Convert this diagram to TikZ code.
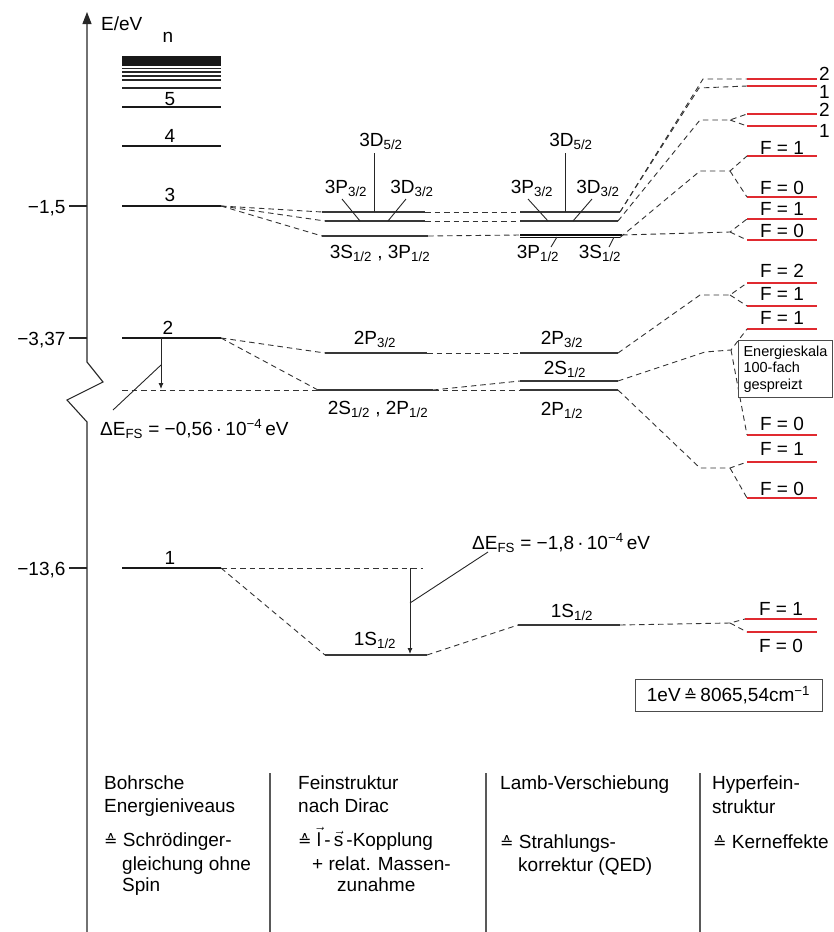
\documentclass[tikz,border=0pt]{standalone}
\usepackage{fontspec}
\setmainfont{Liberation Sans}
\newfontfamily\djv{DejaVu Sans}
\usetikzlibrary{arrows.meta}
\definecolor{hfred}{RGB}{224,42,48}
\newcommand{\eqhat}{{\djv\fontsize{16}{16}\selectfont ≙}}
\newcommand{\sbs}[1]{\textsubscript{#1}}
\begin{document}
\begin{tikzpicture}[x=1pt,y=-1pt,
  lab/.style={font=\fontsize{19}{21}\selectfont, inner sep=0pt, anchor=base},
  labw/.style={lab, anchor=base west},
  labe/.style={lab, anchor=base east},
  axis/.style={line width=1.1pt, draw=black!85},
  bohr/.style={line width=1.9pt, draw=black!90},
  fine/.style={line width=1.2pt, draw=black!78},
  hf/.style={line width=1.5pt, draw=hfred},
  dsh/.style={dash pattern=on 5.5pt off 4pt, line width=0.9pt, draw=black!80},
  lead/.style={line width=0.9pt, draw=black!85},
  sep/.style={line width=1.1pt, draw=black!65},
  ebox/.style={draw=black!70, line width=0.9pt, fill=white},
]
\useasboundingbox (0,0) rectangle (834,932);

% ---------- energy axis ----------
\coordinate (axbot) at (87,932);
\coordinate (axtop) at (87,12);
\draw[axis,-{Triangle[length=12pt,width=9pt]}] (axbot) -- (87,422) -- (67,400) -- (103,382) -- (87,362) -- (axtop);
\node[labw] (elab) at (101,30) {E/eV};
\node[lab] (nlab) at (168,42) {n};
\coordinate (t1) at (87,206); \coordinate (t2) at (87,338); \coordinate (t3) at (87,568);
\draw[axis] (t1) -- ++(-18,0) node[labe, xshift=-3pt, yshift=-7pt] {−1,5};
\draw[axis] (t2) -- ++(-18,0) node[labe, xshift=-3pt, yshift=-7pt] {−3,37};
\draw[axis] (t3) -- ++(-18,0) node[labe, xshift=-3pt, yshift=-7pt] {−13,6};

% ---------- Bohr levels ----------
\fill[black!90] (122,56) rectangle (221,66);
\foreach \yy in {68.5,72,76,80} {\draw[line width=1.1pt, black!85] (122,\yy) -- (221,\yy);}
\draw[line width=1.5pt, black!85] (122,88) -- (221,88);
\coordinate (b5L) at (122,107); \coordinate (b5R) at (221,107);
\coordinate (b4L) at (122,146); \coordinate (b4R) at (221,146);
\coordinate (b3L) at (122,206); \coordinate (b3R) at (221,206);
\coordinate (b2L) at (122,338); \coordinate (b2R) at (221,338);
\coordinate (b1L) at (122,568); \coordinate (b1R) at (221,568);
\draw[bohr] (b5L) -- (b5R); \node[lab] at (170,105) {5};
\draw[bohr] (b4L) -- (b4R); \node[lab] at (170,142) {4};
\draw[bohr] (b3L) -- (b3R); \node[lab] at (170,201) {3};
\draw[bohr] (b2L) -- (b2R); \node[lab] at (168,334) {2};
\draw[bohr] (b1L) -- (b1R); \node[lab] at (170,564) {1};

% ---------- n = 3 fine structure ----------
\coordinate (f3aL) at (322,212); \coordinate (f3aR) at (425,212);
\coordinate (f3bL) at (325,221); \coordinate (f3bR) at (425,221);
\coordinate (f3cL) at (322,236); \coordinate (f3cR) at (428,236);
\draw[fine] (f3aL) -- (f3aR);
\draw[fine] (f3bL) -- (f3bR);
\draw[fine] (f3cL) -- (f3cR);
\draw[dsh] (b3R) -- (f3aL);
\draw[dsh] (b3R) -- (f3bL);
\draw[dsh] (b3R) -- (f3cL);
\node[lab] (f3d5) at (381,146) {3D\sbs{5/2}};
\node[lab] (f3p3) at (346,193) {3P\sbs{3/2}};
\node[lab] (f3d3) at (412,193) {3D\sbs{3/2}};
\node[lab] (f3sp) at (380,258) {3S\sbs{1/2} , 3P\sbs{1/2}};
\draw[lead] (374,153) -- (374,212);
\draw[lead] (342,199) -- (360,221);
\draw[lead] (406,199) -- (388,221);

% ---------- n = 3 Lamb shift ----------
\coordinate (l3aL) at (520,212); \coordinate (l3aR) at (620,212);
\coordinate (l3bL) at (520,221); \coordinate (l3bR) at (618,221);
\coordinate (l3sL) at (520,235); \coordinate (l3sR) at (622,235);
\coordinate (l3pL) at (520,237.5); \coordinate (l3pR) at (620,237.5);
\draw[fine] (l3aL) -- (l3aR);
\draw[fine] (l3bL) -- (l3bR);
\draw[fine,black!95] (l3sL) -- (l3sR);
\draw[fine,black!95] (l3pL) -- (l3pR);
\draw[dsh] (f3aR) -- (l3aL);
\draw[dsh] (f3bR) -- (l3bL);
\draw[dsh] (f3cR) -- (l3sL);
\node[lab] (l3d5) at (571,146) {3D\sbs{5/2}};
\node[lab] (l3p3) at (532,193) {3P\sbs{3/2}};
\node[lab] (l3d3) at (598,193) {3D\sbs{3/2}};
\node[lab] (l3p1) at (538,258) {3P\sbs{1/2}};
\node[lab] (l3s1) at (600,258) {3S\sbs{1/2}};
\draw[lead] (565,153) -- (565,212);
\draw[lead] (528,199) -- (548,221);
\draw[lead] (592,199) -- (573,221);
\draw[lead] (557,237) -- (551,247);
\draw[lead] (614,237) -- (609,247);

% ---------- n = 3 hyperfine ----------
\foreach \nm/\yy in {h1/79,h2/86,h3/114,h4/126,h5/156,h6/197,h7/219,h8/240} {
  \coordinate (\nm L) at (747,\yy); \coordinate (\nm R) at (817,\yy);
  \draw[hf] (\nm L) -- (\nm R);
}
\node[labw] at (819,80) {2};
\node[labw] at (819,98) {1};
\node[labw] at (819,116) {2};
\node[labw] at (819,137) {1};
\node[lab] at (782,154) {F = 1};
\node[lab] at (782,194) {F = 0};
\node[lab] at (782,215) {F = 1};
\node[lab] at (782,237) {F = 0};
\coordinate (k1) at (703,79); \coordinate (k2) at (699,88);
\coordinate (k3) at (700,120); \coordinate (s3) at (730,120);
\coordinate (k5) at (700,171); \coordinate (s5) at (730,171);
\coordinate (s7) at (730,232);
\draw[dsh] (l3aR) -- (k1) -- (h1L);
\draw[dsh] (l3aR) -- (k2) -- (h2L);
\draw[dsh] (l3bR) -- (k3) -- (s3) -- (h3L);
\draw[dsh] (s3) -- (h4L);
\draw[dsh] (l3pR) -- (k5) -- (s5) -- (h5L);
\draw[dsh] (s5) -- (h6L);
\draw[dsh] (l3sR) -- (s7) -- (h7L);
\draw[dsh] (s7) -- (h8L);

% ---------- n = 2 ----------
\coordinate (d2L) at (122,390);
\coordinate (f2aL) at (325,353); \coordinate (f2aR) at (427,353);
\coordinate (f2bL) at (318,390); \coordinate (f2bR) at (433,390);
\draw[dsh] (d2L) -- (f2bL);
\draw[fine] (f2aL) -- (f2aR);
\draw[fine] (f2bL) -- (f2bR);
\draw[dsh] (b2R) -- (f2aL);
\draw[dsh] (b2R) -- (f2bL);
\coordinate (a2top) at (161,338); \coordinate (a2bot) at (161,389);
\draw[lead,-{Latex[length=6pt,width=5pt]}] (a2top) -- (a2bot);
\node[labw] (de2) at (100,435) {ΔE\sbs{FS} = −0,56\,·\,10\textsuperscript{−4}\,eV};
\draw[lead] (161,365) -- (113,410);
\node[lab] at (375,344) {2P\sbs{3/2}};
\node[lab] at (378,414) {2S\sbs{1/2} , 2P\sbs{1/2}};

\coordinate (l2aL) at (520,353); \coordinate (l2aR) at (618,353);
\coordinate (l2sL) at (520,381); \coordinate (l2sR) at (618,381);
\coordinate (l2pL) at (520,390); \coordinate (l2pR) at (618,390);
\draw[fine] (l2aL) -- (l2aR);
\draw[fine] (l2sL) -- (l2sR);
\draw[fine] (l2pL) -- (l2pR);
\draw[dsh] (f2aR) -- (l2aL);
\draw[dsh] (f2bR) -- (l2sL);
\draw[dsh] (f2bR) -- (l2pL);
\node[lab] at (562,344) {2P\sbs{3/2}};
\node[lab] at (565,374) {2S\sbs{1/2}};
\node[lab] at (562,415) {2P\sbs{1/2}};

\foreach \nm/\yy in {g1/283,g2/306,g3/329,g4/435,g5/462,g6/498} {
  \coordinate (\nm L) at (747,\yy); \coordinate (\nm R) at (817,\yy);
  \draw[hf] (\nm L) -- (\nm R);
}
\node[lab] at (782,277) {F = 2};
\node[lab] at (782,300) {F = 1};
\node[lab] at (782,324) {F = 1};
\node[lab] at (782,430) {F = 0};
\node[lab] at (782,455) {F = 1};
\node[lab] at (782,495) {F = 0};
\coordinate (m1) at (700,295); \coordinate (n1) at (730,295);
\coordinate (m2) at (705,352); \coordinate (n2) at (731,350);
\coordinate (m3) at (700,468); \coordinate (n3) at (730,468);
\draw[dsh] (l2aR) -- (m1) -- (n1) -- (g1L);
\draw[dsh] (n1) -- (g2L);
\draw[dsh] (l2sR) -- (m2) -- (n2) -- (g3L);
\draw[dsh] (n2) -- (g4L);
\draw[dsh] (l2pR) -- (m3) -- (n3) -- (g5L);
\draw[dsh] (n3) -- (g6L);
\node[ebox, font=\fontsize{14.5}{16.5}\selectfont, align=left, anchor=north west,
      inner sep=2pt, minimum width=94pt, minimum height=57pt] (scale) at (738,340)
  {Energieskala\\100-fach\\gespreizt};

% ---------- n = 1 ----------
\coordinate (d1R) at (423,568);
\coordinate (f1L) at (325,655); \coordinate (f1R) at (427,655);
\draw[dsh] (b1R) -- (d1R);
\draw[dsh] (b1R) -- (f1L);
\draw[fine] (f1L) -- (f1R);
\coordinate (a1top) at (410,568); \coordinate (a1bot) at (410,654);
\draw[lead,-{Latex[length=6pt,width=5pt]}] (a1top) -- (a1bot);
\draw[lead] (410,603) -- (488,552);
\node[labw] (de1) at (472,549) {ΔE\sbs{FS} = −1,8\,·\,10\textsuperscript{−4}\,eV};
\node[lab] at (375,645) {1S\sbs{1/2}};
\coordinate (l1L) at (518,625); \coordinate (l1R) at (620,625);
\draw[dsh] (f1R) -- (l1L);
\draw[fine] (l1L) -- (l1R);
\node[lab] at (572,617) {1S\sbs{1/2}};
\coordinate (e1L) at (745,619); \coordinate (e1R) at (817,619);
\coordinate (e0L) at (747,632); \coordinate (e0R) at (817,632);
\draw[hf] (e1L) -- (e1R);
\draw[hf] (e0L) -- (e0R);
\coordinate (p1) at (730,623);
\draw[dsh] (l1R) -- (p1) -- (e1L);
\draw[dsh] (p1) -- (e0L);
\node[lab] at (781,615) {F = 1};
\node[lab] at (781,652) {F = 0};

% ---------- conversion box ----------
\node[ebox, font=\fontsize{19}{21}\selectfont, minimum width=187pt, minimum height=32pt,
      inner sep=0pt] (conv) at (728.5,695) {1eV\,\eqhat\,8065,54cm\textsuperscript{−1}};

% ---------- bottom captions ----------
\coordinate (s1t) at (270,773); \coordinate (s1b) at (270,932);
\coordinate (s2t) at (486,773); \coordinate (s2b) at (486,932);
\coordinate (s3t) at (700,773); \coordinate (s3b) at (700,932);
\draw[sep] (s1t) -- (s1b);
\draw[sep] (s2t) -- (s2b);
\draw[sep] (s3t) -- (s3b);

\node[labw] at (104,789) {Bohrsche};
\node[labw] at (104,812) {Energieniveaus};
\node[labw] at (104,846) {\eqhat\ Schrödinger-};
\node[labw] at (122,870) {gleichung ohne};
\node[labw] at (122,891) {Spin};

\node[labw] at (298,789) {Feinstruktur};
\node[labw] at (298,812) {nach Dirac};
\node[labw] at (298,846) {\eqhat\ \(\vec{\hbox{l}}\)\,-\,\(\vec{\hbox{s}}\)\,-Kopplung};
\node[labw] at (312,870) {+ relat. Massen-};
\node[labw] at (337,891) {zunahme};

\node[labw] at (500,789) {Lamb-Verschiebung};
\node[labw] at (500,848) {\eqhat\ Strahlungs-};
\node[labw] at (518,871) {korrektur (QED)};

\node[labw] at (712,789) {Hyperfein-};
\node[labw] at (712,813) {struktur};
\node[labw] at (713,848) {\eqhat\ Kerneffekte};
\end{tikzpicture}
\end{document}
